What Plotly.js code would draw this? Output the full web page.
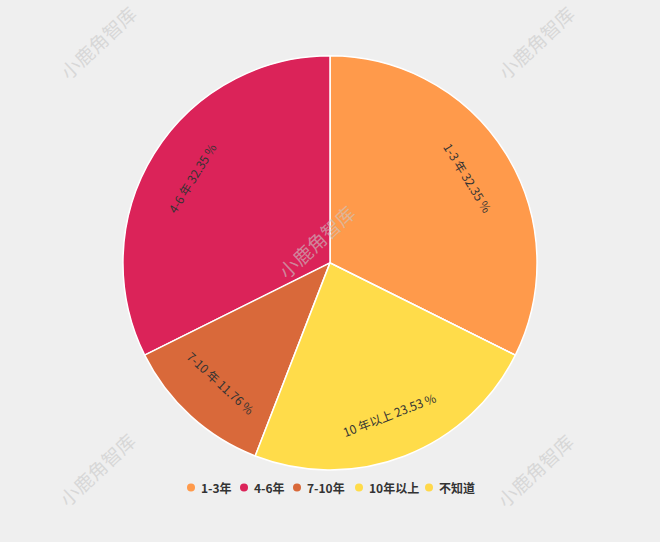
<!DOCTYPE html>
<html>
<head>
<meta charset="utf-8">
<script src="https://cdn.plot.ly/plotly-3.0.1.min.js"></script>
<style>
html,body{margin:0;padding:0;background:#efefef;}
#chart{width:660px;height:542px;}
</style>
</head>
<body>
<div id="chart"></div>
<script>
// Data
const categories = ["1-3年", "4-6年", "7-10年", "10年以上", "不知道"];
const counts = [11, 11, 4, 8, 0];
const colors = ["#FF9A4B", "#DB2359", "#D9693A", "#FFDC4A", "#FFD84A"];
const watermark = "小鹿角智库";

const W = 660, H = 542;
const total = counts.reduce((a, b) => a + b, 0);
const sliceText = categories.map((c, i) =>
  c.replace("年", " 年") + " " + (counts[i] / total * 100).toFixed(2) + " %");

const dom = {x: [0.186, 0.814], y: [0.133, 0.897]};
const pie = {
  type: "pie",
  labels: categories,
  values: counts,
  textinfo: "none",
  sort: false,
  direction: "counterclockwise",
  rotation: 0,
  marker: {colors: colors, line: {color: "#ffffff", width: 1.5}},
  domain: dom,
  showlegend: false,
  hoverinfo: "label+percent"
};

// watermark
const wmPos = [[97, 42], [535, 42], [316, 242], [96, 469], [534, 470]];
const annotations = wmPos.map(p => ({
  text: watermark,
  x: p[0] / W, y: 1 - p[1] / H,
  xref: "paper", yref: "paper",
  xanchor: "center", yanchor: "middle",
  showarrow: false,
  textangle: -43,
  font: {family: "Noto Sans CJK SC", size: 19, color: "rgba(200,200,200,0.6)"}
}));

// slice labels: tangential, placed at ~0.785 of the radius, derived from the data
const cx = (dom.x[0] + dom.x[1]) / 2 * W;
const cy = (1 - (dom.y[0] + dom.y[1]) / 2) * H;
const R = Math.min((dom.x[1] - dom.x[0]) * W, (dom.y[1] - dom.y[0]) * H) / 2;
let cum = 0;
counts.forEach((v, i) => {
  const mid = 360 * (counts[0] - cum - v / 2) / total;
  cum += v;
  if (v <= 0) return;
  const rad = mid * Math.PI / 180;
  const px = cx + 0.785 * R * Math.sin(rad);
  const py = cy - 0.785 * R * Math.cos(rad);
  let t = ((mid % 360) + 360) % 360;
  if (t > 180) t -= 360;
  if (t > 90) t -= 180;
  if (t < -90) t += 180;
  annotations.push({
    text: sliceText[i], xref: "paper", yref: "paper",
    x: px / W, y: 1 - py / H, xanchor: "center", yanchor: "middle",
    showarrow: false, textangle: t,
    font: {family: "Noto Sans CJK SC", size: 12, color: "#333333"}
  });
});

// custom legend (layout positions)
const legMarkerX = [191, 244, 297, 359, 429];
const legY = 487.5;
const shapes = [];
categories.forEach((c, i) => {
  const mx = legMarkerX[i];
  shapes.push({
    type: "circle", xref: "paper", yref: "paper",
    x0: (mx - 4) / W, x1: (mx + 4) / W,
    y0: 1 - (legY + 4) / H, y1: 1 - (legY - 4) / H,
    fillcolor: colors[i], line: {width: 0}
  });
  annotations.push({
    text: c, xref: "paper", yref: "paper",
    x: (mx + 8) / W, y: 1 - legY / H,
    xanchor: "left", yanchor: "middle", showarrow: false,
    font: {family: "Noto Sans CJK SC", size: 12, color: "#333333", weight: "bold"}
  });
});

const layout = {
  width: W, height: H,
  paper_bgcolor: "#efefef",
  plot_bgcolor: "#efefef",
  margin: {l: 0, r: 0, t: 0, b: 0},
  showlegend: false,
  annotations: annotations,
  shapes: shapes
};

Plotly.newPlot("chart", [pie], layout, {displayModeBar: false, staticPlot: true});
</script>
</body>
</html>
